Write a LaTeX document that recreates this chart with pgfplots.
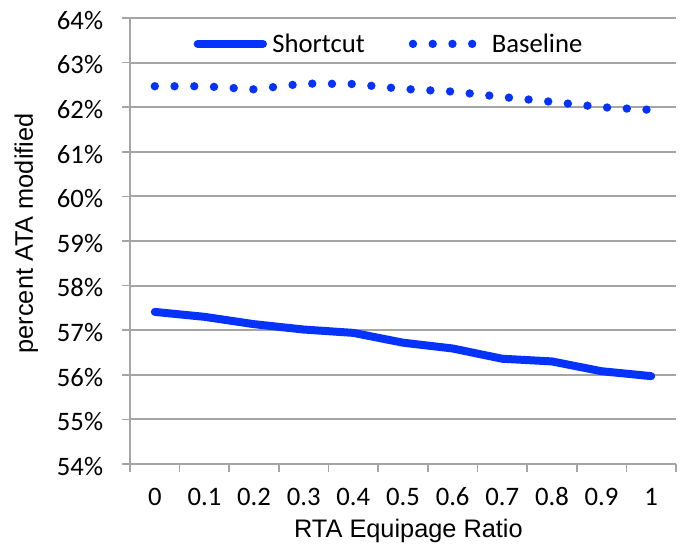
\documentclass[border=0pt]{standalone}
\usepackage{fontspec}
\setmainfont{Carlito}
\newfontfamily\arialfont{Liberation Sans}
\usepackage{pgfplots}
\pgfplotsset{compat=1.18}

\definecolor{lineblue}{RGB}{6,50,254}
\definecolor{gridgray}{RGB}{165,165,165}

\pgfplotsset{
    shortleg/.style={legend image code/.code={\draw[##1] (0pt,0pt) -- (49pt,0pt);}},
    baseleg/.style={legend image code/.code={\draw[##1] (0pt,0pt) -- (44.5pt,0pt); \path (52pt,0pt);}},
}

% one pixel of the reference = 0.75pt
\begin{document}
\begin{tikzpicture}
\useasboundingbox (-97.5pt,-60pt) rectangle (414.75pt,348pt);
\begin{axis}[
    scale only axis,
    width=409.5pt, height=334.5pt,
    xmin=-0.5, xmax=10.5,
    ymin=54, ymax=64,
    axis lines*=left,
    axis line style={draw=gridgray, line width=1.5pt, -},
    ymajorgrids,
    grid style={draw=gridgray, line width=1.5pt},
    xtick={0,...,10},
    xticklabels={0,0.1,0.2,0.3,0.4,0.5,0.6,0.7,0.8,0.9,1},
    major x tick style={draw=none},
    minor xtick={-0.5,0.5,...,10.5},
    minor tick length=6pt,
    ytick={54,...,64},
    yticklabel={\pgfmathprintnumber{\tick}\%},
    major tick length=6pt,
    tick align=outside,
    tick style={draw=gridgray, line width=1.2pt},
    /pgf/number format/assume math mode=true,
    ticklabel style={font=\fontsize{20}{24}\selectfont},
    xticklabel style={anchor=base, inner sep=0pt, yshift=-25pt},
    yticklabel style={anchor=base east, inner sep=0pt, xshift=-14pt, yshift=-8.5pt},
    xlabel={RTA Equipage Ratio},
    ylabel={percent ATA modified},
    label style={font=\arialfont\fontsize{19}{23}\selectfont},
    xlabel style={at={(rel axis cs:0.51,-0.15)}, anchor=center},
    ylabel style={at={(rel axis cs:-0.19,0.517)}, anchor=center},
    legend columns=2,
    legend style={draw=none, fill=none, at={(rel axis cs:0.475,0.942)}, anchor=center,
        font=\fontsize{20}{24}\selectfont, column sep=2pt,
        /tikz/every even column/.append style={column sep=31pt}},
]
\addplot[lineblue, line width=6pt, line cap=round, line join=round, shortleg]
    coordinates {(0,57.41) (1,57.30) (2,57.135) (3,57.015) (4,56.94) (5,56.72)
                 (6,56.59) (7,56.36) (8,56.30) (9,56.08) (10,55.97)};
\addlegendentry{Shortcut}
\addplot[lineblue, line width=6.3pt, line cap=round, dash pattern=on 0pt off 14.8pt, baseleg]
    coordinates {(0,62.47) (1,62.47) (2,62.40) (3,62.53) (4,62.52) (5,62.41)
                 (6,62.35) (7,62.23) (8,62.12) (9,62.00) (10,61.94)};
\addlegendentry{Baseline}
\end{axis}
\end{tikzpicture}
\end{document}
